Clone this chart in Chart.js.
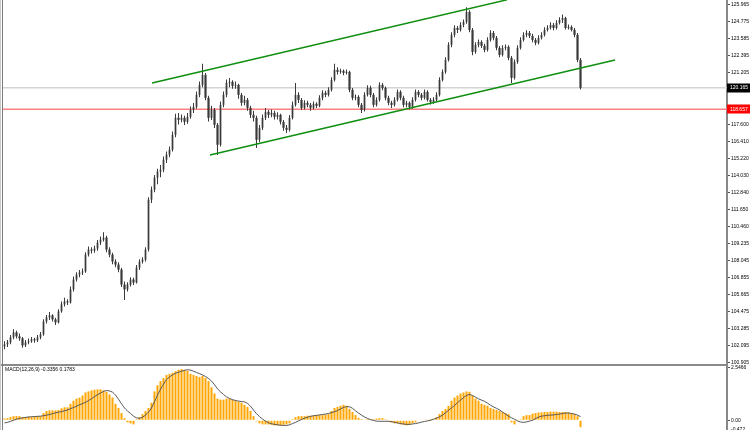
<!DOCTYPE html>
<html>
<head>
<meta charset="utf-8">
<script src="https://cdn.jsdelivr.net/npm/chart.js@4.4.1/dist/chart.umd.min.js"></script>
<style>
    html, body { margin: 0; padding: 0; background: #fff; }
    #wrap { position: relative; width: 750px; height: 430px; }
</style>
</head>
<body>
<div id="wrap"><canvas id="grafico1"></canvas></div>
<script>
// velas (una por barra, indice 0..192)
const opens = [
    102.05,102.19,102.33,102.68,103.03,102.75,102.61,102.12,102.33,102.40,
    102.54,102.47,102.68,102.89,103.80,104.08,104.22,103.94,103.73,104.50,
    104.99,105.20,105.13,106.04,106.73,107.08,107.22,107.29,108.48,108.83,
    108.76,108.90,109.32,109.53,109.67,108.83,108.48,107.99,107.78,107.43,
    106.38,106.04,106.38,106.73,106.52,107.57,107.99,108.13,108.83,112.33,
    113.03,113.87,114.29,114.43,115.13,115.48,115.83,116.87,118.06,117.92,
    118.06,117.78,118.13,118.62,118.83,119.67,120.37,121.07,119.46,118.06,
    118.62,117.57,116.17,118.97,119.67,120.51,120.58,120.30,120.37,119.67,
    119.11,119.32,118.76,118.27,118.06,116.52,117.36,118.06,118.48,118.27,
    118.41,118.13,118.27,117.78,117.36,117.22,118.06,118.97,119.67,119.32,
    118.76,119.11,118.97,118.76,119.04,118.90,119.46,119.81,119.67,120.02,
    120.72,121.42,121.28,121.35,121.21,121.28,120.02,119.46,119.53,118.97,
    118.62,119.67,120.16,119.67,118.97,119.32,120.37,120.16,119.46,119.11,
    118.97,119.32,119.88,119.46,118.97,119.11,118.83,119.32,119.88,119.67,
    119.46,119.88,119.32,119.18,119.32,119.67,120.72,121.28,122.12,123.17,
    123.87,124.36,124.22,124.57,124.78,125.48,124.22,122.68,123.17,123.38,
    123.10,122.82,123.52,124.01,123.66,122.96,122.47,122.96,123.03,122.26,
    120.86,121.98,122.96,123.52,123.87,124.01,123.80,123.52,123.31,123.66,
    123.87,124.22,124.36,124.57,124.36,124.71,124.92,125.06,124.36,124.43,
    124.22,123.87,122.12
];
const highs = [
    102.40,102.50,102.85,103.25,103.15,102.95,102.70,102.50,102.60,102.70,
    102.65,102.85,103.05,103.95,104.25,104.45,104.30,104.05,104.65,105.20,
    105.45,105.35,106.25,106.95,107.25,107.40,107.50,108.65,109.05,109.00,
    109.10,109.50,109.75,110.05,109.80,109.00,108.60,108.15,107.95,107.55,
    106.60,106.55,106.90,106.85,107.75,108.15,108.30,109.00,112.50,113.25,
    114.05,114.50,114.75,115.35,115.70,116.05,117.10,118.35,118.40,118.30,
    118.20,118.40,118.85,119.10,119.90,120.60,121.85,121.20,119.60,118.90,
    118.75,117.70,119.20,119.90,120.75,120.85,120.70,120.60,120.45,119.80,
    119.60,119.45,118.90,118.55,118.20,117.55,118.30,118.75,118.60,118.65,
    118.55,118.45,118.35,117.90,117.55,118.25,119.20,120.50,119.85,119.45,
    119.30,119.25,119.10,119.20,119.15,119.65,120.00,119.95,120.20,120.90,
    121.85,121.60,121.50,121.45,121.45,121.35,120.15,119.70,119.65,119.10,
    119.85,120.35,120.30,119.80,119.50,120.55,120.50,120.25,119.60,119.25,
    119.50,120.05,120.00,119.60,119.25,119.20,119.50,120.05,120.00,119.80,
    120.05,120.00,119.45,119.50,119.85,120.90,121.45,122.30,123.35,124.05,
    124.55,124.50,124.75,124.95,125.80,125.60,124.35,123.35,123.55,123.50,
    123.25,123.70,124.20,124.15,123.80,123.10,123.15,123.20,123.15,122.40,
    122.15,123.15,123.70,124.05,124.20,124.15,123.95,123.65,123.85,124.05,
    124.40,124.55,124.75,124.70,124.90,125.10,125.30,125.15,124.60,124.55,
    124.35,124.00,122.25
];
const lows = [
    101.85,102.00,102.20,102.55,102.60,102.45,101.95,102.00,102.20,102.30,
    102.30,102.35,102.55,102.80,103.65,103.90,103.80,103.55,103.65,104.40,
    104.85,104.95,105.05,105.90,106.60,106.90,107.05,107.20,108.35,108.55,
    108.60,108.75,109.15,109.40,108.65,108.30,107.80,107.60,107.25,106.20,
    105.30,105.90,106.25,106.35,106.45,107.40,107.85,108.00,108.70,112.10,
    112.85,113.40,113.90,114.25,114.90,115.30,115.70,116.70,117.60,117.75,
    117.55,117.65,118.00,118.40,118.70,119.50,120.20,119.30,117.80,117.90,
    117.35,115.45,116.05,118.80,119.50,120.20,120.10,120.10,119.40,118.90,
    118.95,118.55,118.05,117.80,115.95,116.35,117.20,117.90,118.05,118.10,
    117.95,117.95,117.60,117.15,117.00,117.10,117.95,118.85,119.10,118.60,
    118.65,118.80,118.55,118.65,118.75,118.80,119.30,119.50,119.55,119.90,
    120.60,121.10,121.15,121.05,121.10,119.85,119.30,119.30,118.80,118.40,
    118.50,119.55,119.50,118.80,118.85,119.20,120.00,119.30,118.95,118.75,
    118.85,119.20,119.30,118.80,118.80,118.65,118.70,119.20,119.50,119.30,
    119.35,119.20,119.00,119.05,119.20,119.55,120.60,121.15,122.00,123.00,
    123.70,124.00,124.10,124.40,124.65,124.05,122.45,122.55,123.00,122.95,
    122.65,122.70,123.40,123.50,122.80,122.30,122.35,122.80,122.10,120.50,
    120.75,121.85,122.85,123.40,123.70,123.65,123.35,123.15,123.20,123.55,
    123.75,124.10,124.25,124.20,124.25,124.60,124.70,124.25,124.25,124.10,
    123.70,121.95,120.05
];
const closes = [
    102.19,102.33,102.68,103.03,102.75,102.61,102.12,102.33,102.40,102.54,
    102.47,102.68,102.89,103.80,104.08,104.22,103.94,103.73,104.50,104.99,
    105.20,105.13,106.04,106.73,107.08,107.22,107.29,108.48,108.83,108.76,
    108.90,109.32,109.53,109.67,108.83,108.48,107.99,107.78,107.43,106.38,
    106.04,106.38,106.73,106.52,107.57,107.99,108.13,108.83,112.33,113.03,
    113.87,114.29,114.43,115.13,115.48,115.83,116.87,118.06,117.92,118.06,
    117.78,118.13,118.62,118.83,119.67,120.37,121.07,119.46,118.06,118.62,
    117.57,116.17,118.97,119.67,120.51,120.58,120.30,120.37,119.67,119.11,
    119.32,118.76,118.27,118.06,116.52,117.36,118.06,118.48,118.27,118.41,
    118.13,118.27,117.78,117.36,117.22,118.06,118.97,119.67,119.32,118.76,
    119.11,118.97,118.76,119.04,118.90,119.46,119.81,119.67,120.02,120.72,
    121.42,121.28,121.35,121.21,121.28,120.02,119.46,119.53,118.97,118.62,
    119.67,120.16,119.67,118.97,119.32,120.37,120.16,119.46,119.11,118.97,
    119.32,119.88,119.46,118.97,119.11,118.83,119.32,119.88,119.67,119.46,
    119.88,119.32,119.18,119.32,119.67,120.72,121.28,122.12,123.17,123.87,
    124.36,124.22,124.57,124.78,125.48,124.22,122.68,123.17,123.38,123.10,
    122.82,123.52,124.01,123.66,122.96,122.47,122.96,123.03,122.26,120.86,
    121.98,122.96,123.52,123.87,124.01,123.80,123.52,123.31,123.66,123.87,
    124.22,124.36,124.57,124.36,124.71,124.92,125.06,124.36,124.43,124.22,
    123.87,122.12,120.165
];

// MACD(12,26,9): histograma y linea de senal
const macdHist = [
    0.08,0.10,0.15,0.20,0.20,0.20,0.15,0.15,0.17,0.17,
    0.18,0.20,0.20,0.35,0.45,0.48,0.48,0.48,0.50,0.58,
    0.63,0.63,0.80,0.95,1.05,1.10,1.20,1.35,1.40,1.45,
    1.48,1.50,1.50,1.45,1.38,1.25,1.10,0.80,0.60,0.35,
    0.10,-0.10,-0.15,-0.20,0.05,0.15,0.30,0.45,0.60,0.85,
    1.40,1.70,1.90,2.05,2.20,2.25,2.30,2.38,2.45,2.48,
    2.45,2.40,2.25,2.20,2.15,2.10,2.15,2.05,1.90,1.60,
    1.30,1.05,1.00,1.00,1.05,1.05,1.00,0.95,0.90,0.85,
    0.75,0.65,0.45,0.20,-0.05,-0.15,-0.20,-0.20,-0.20,-0.22,
    -0.25,-0.25,-0.25,-0.22,-0.20,-0.15,0.05,0.15,0.20,0.20,
    0.20,0.22,0.22,0.22,0.25,0.25,0.25,0.28,0.30,0.45,
    0.60,0.65,0.70,0.75,0.70,0.55,0.40,0.25,0.12,0.05,
    0.02,0.05,0.05,0.05,0.08,0.10,0.10,0.05,-0.05,-0.10,
    -0.15,-0.15,-0.20,-0.22,-0.25,-0.22,-0.15,-0.10,0.02,0.03,
    0.03,0.03,0.05,0.05,0.15,0.30,0.45,0.55,0.70,0.95,
    1.10,1.20,1.30,1.35,1.40,1.38,1.20,1.05,0.95,0.80,
    0.75,0.70,0.60,0.55,0.50,0.45,0.40,0.35,0.30,-0.10,
    -0.20,0.02,0.05,0.20,0.25,0.25,0.32,0.35,0.38,0.38,
    0.40,0.40,0.42,0.42,0.42,0.40,0.40,0.40,0.38,0.35,
    0.30,0.20,-0.3356
];
const macdSignal = [
    -0.13,-0.10,-0.05,0.00,0.05,0.09,0.12,0.14,0.16,0.17,
    0.18,0.19,0.20,0.22,0.25,0.28,0.32,0.36,0.39,0.42,
    0.46,0.50,0.56,0.62,0.68,0.75,0.81,0.87,0.95,1.05,
    1.15,1.24,1.32,1.40,1.44,1.42,1.36,1.22,1.02,0.80,
    0.60,0.45,0.33,0.20,0.12,0.10,0.15,0.25,0.40,0.60,
    0.90,1.22,1.50,1.75,1.97,2.10,2.20,2.28,2.33,2.38,
    2.42,2.45,2.43,2.38,2.32,2.26,2.20,2.12,2.03,1.90,
    1.72,1.53,1.38,1.25,1.14,1.06,1.00,0.96,0.93,0.91,
    0.89,0.82,0.68,0.50,0.32,0.18,0.06,-0.04,-0.12,-0.17,
    -0.20,-0.22,-0.24,-0.25,-0.25,-0.22,-0.16,-0.10,-0.03,0.04,
    0.10,0.15,0.19,0.22,0.24,0.26,0.28,0.30,0.33,0.37,
    0.42,0.47,0.55,0.62,0.66,0.65,0.58,0.46,0.35,0.25,
    0.16,0.09,0.03,-0.01,-0.04,-0.05,-0.05,-0.05,-0.05,-0.07,
    -0.10,-0.13,-0.16,-0.18,-0.20,-0.20,-0.18,-0.16,-0.13,-0.09,
    -0.06,-0.03,0.00,0.05,0.10,0.17,0.25,0.36,0.48,0.60,
    0.72,0.85,0.98,1.10,1.20,1.25,1.20,1.12,1.04,0.98,
    0.92,0.83,0.73,0.65,0.58,0.50,0.40,0.30,0.20,0.12,
    0.05,-0.03,-0.08,-0.10,-0.08,-0.04,0.00,0.08,0.15,0.20,
    0.22,0.24,0.25,0.26,0.28,0.30,0.33,0.35,0.35,0.33,
    0.30,0.25,0.1783
];

// lineas de tendencia: [indice de barra, precio]
const trendUpper = [[49.2, 120.50], [167.5, 126.33]];
const trendLower = [[68.5, 115.46], [203.5, 122.11]];

const lastPrice = 120.165;
const redLevel = 118.657;

const priceLabels = ['125.965', '124.775', '123.585', '122.395', '121.205', '117.600', '116.410',
    '115.220', '114.030', '112.840', '111.650', '110.460', '109.235', '108.045', '106.855',
    '105.665', '104.475', '103.285', '102.095', '100.905'];
const macdLabels = ['2.5466', '0.00', '-0.472'];
const macdTitle = 'MACD(12,26,9) -0.3356 0.1783';

const totalSlots = 241.33; // barras que caben en el ancho del grafico

const axisFont = { size: 5, family: 'Liberation Sans' };

function toPoints(pairs) {
    return pairs.map(p => ({ x: p[0], y: p[1] }));
}

function box(ctx, y, color, text, left, width) {
    ctx.fillStyle = color;
    ctx.fillRect(left, Math.round(y) - 4.5, width - left, 9);
    ctx.fillStyle = '#fff';
    ctx.font = '5px "Liberation Sans"';
    ctx.textBaseline = 'middle';
    ctx.fillText(text, left + 3, y);
}

const extras = {
    id: 'extras',
    afterDraw(chart) {
        const { ctx, chartArea, scales } = chart;
        ctx.save();
        // separador de paneles
        ctx.fillStyle = '#8a8a8a';
        ctx.fillRect(0, scales.ym.top - 1, chartArea.right, 2);
        // borde izquierdo
        ctx.fillStyle = '#c8c8c8';
        ctx.fillRect(0, 0, 1, chart.height);
        ctx.fillStyle = '#7a7a7a';
        ctx.fillRect(2, 0, 1, chart.height);
        // etiquetas de precio
        box(ctx, scales.y.getPixelForValue(lastPrice), '#000', lastPrice.toFixed(3), chartArea.right, chart.width);
        box(ctx, scales.y.getPixelForValue(redLevel), '#ff0000', redLevel.toFixed(3), chartArea.right, chart.width);
        // titulo MACD
        ctx.fillStyle = '#000';
        ctx.font = '5px "Liberation Sans"';
        ctx.textBaseline = 'middle';
        ctx.fillText(macdTitle, 5, scales.ym.top + 5);
        ctx.restore();
    }
};

function fixAxis(scale) {
    scale.width = 23;
    scale.paddingTop = 0;
    scale.paddingBottom = 0;
}

const ctx = document.getElementById('grafico1').getContext('2d');
new Chart(ctx, {
    type: 'bar',
    data: {
        datasets: [
            {
                type: 'line', label: 'sup', data: toPoints(trendUpper), yAxisID: 'y',
                borderColor: '#0f8f0f', borderWidth: 1.5, pointRadius: 0
            },
            {
                type: 'line', label: 'inf', data: toPoints(trendLower), yAxisID: 'y',
                borderColor: '#0f8f0f', borderWidth: 1.5, pointRadius: 0
            },
            {
                label: 'mechas', yAxisID: 'y',
                data: highs.map((h, i) => ({ x: i, y: [lows[i], h] })),
                backgroundColor: '#3a3a3a', barThickness: 1, inflateAmount: 0
            },
            {
                label: 'cuerpos', yAxisID: 'y',
                data: opens.map((o, i) => ({ x: i, y: [o, closes[i]] })),
                backgroundColor: closes.map((c, i) => c >= opens[i] ? '#707070' : '#111111'),
                barThickness: 2, inflateAmount: 0
            },
            {
                type: 'line', label: 'ultimo', yAxisID: 'y',
                data: [{ x: -0.5, y: lastPrice }, { x: totalSlots, y: lastPrice }],
                borderColor: '#d4d4d4', borderWidth: 1.5, pointRadius: 0
            },
            {
                type: 'line', label: 'nivel', yAxisID: 'y',
                data: [{ x: -0.5, y: redLevel }, { x: totalSlots, y: redLevel }],
                borderColor: '#ff8080', borderWidth: 1.5, pointRadius: 0
            },
            {
                type: 'line', label: 'senal', yAxisID: 'ym',
                data: macdSignal.map((v, i) => ({ x: i, y: v })),
                borderColor: '#555', borderWidth: 1, pointRadius: 0, tension: 0.3
            },
            {
                label: 'macd', yAxisID: 'ym',
                data: macdHist.map((v, i) => ({ x: i, y: v })),
                backgroundColor: '#ffa500', barThickness: 2, inflateAmount: 0
            }
        ]
    },
    options: {
        responsive: true,
        maintainAspectRatio: false,
        animation: false,
        devicePixelRatio: 1,
        layout: { padding: { left: 3, right: 0, top: 0, bottom: 0 } },
        plugins: {
            legend: { display: false },
            tooltip: { enabled: false }
        },
        scales: {
            x: {
                type: 'linear', min: -0.5, max: totalSlots - 0.5,
                display: false, stacked: true, offset: false
            },
            y: {
                position: 'right', stack: 'panes', stackWeight: 365,
                min: 100.744, max: 126.315, stacked: false, beginAtZero: false,
                afterBuildTicks: s => { s.ticks = priceLabels.map(l => ({ value: Number(l) })); },
                afterFit: fixAxis,
                ticks: {
                    autoSkip: false, padding: 1, color: '#000', font: axisFont,
                    callback: (v, i) => priceLabels[i]
                },
                grid: { drawOnChartArea: false, tickLength: 3, color: '#555' },
                border: { color: '#888', width: 2 }
            },
            ym: {
                position: 'right', stack: 'panes', stackWeight: 65,
                min: -0.472, max: 2.681, stacked: false, beginAtZero: false,
                afterBuildTicks: s => { s.ticks = macdLabels.map(l => ({ value: Number(l) })); },
                afterFit: fixAxis,
                ticks: {
                    autoSkip: false, padding: 1, color: '#000', font: axisFont,
                    callback: (v, i) => macdLabels[i]
                },
                grid: { drawOnChartArea: false, tickLength: 3, color: '#555' },
                border: { color: '#888', width: 2 }
            }
        }
    },
    plugins: [extras]
});
</script>
</body>
</html>
